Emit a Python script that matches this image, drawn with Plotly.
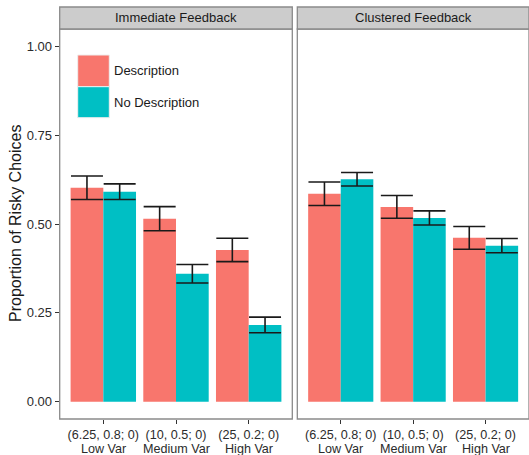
import plotly.graph_objects as go

# Risky-choice proportions by variance condition, feedback type and description
gambles = ["(6.25, 0.8; 0)", "(10, 0.5; 0)", "(25, 0.2; 0)"]
variance_labels = ["Low Var", "Medium Var", "High Var"]
panels = ["Immediate Feedback", "Clustered Feedback"]
groups = ["Description", "No Description"]
colors = ["#F8766D", "#00BFC4"]

immediate_desc = [0.602, 0.515, 0.427]
immediate_desc_se = [0.033, 0.034, 0.033]
immediate_nodesc = [0.591, 0.360, 0.216]
immediate_nodesc_se = [0.022, 0.026, 0.022]

clustered_desc = [0.585, 0.548, 0.461]
clustered_desc_se = [0.033, 0.032, 0.032]
clustered_nodesc = [0.626, 0.517, 0.439]
clustered_nodesc_se = [0.019, 0.020, 0.020]

y_ticks = [0.0, 0.25, 0.5, 0.75, 1.0]

W, H = 529, 455
FONT = "Liberation Sans, Arial, sans-serif"


def px_x(p):
    return p / W


def px_y(p):
    return 1 - p / H


fig = go.Figure()

series = [
    ("x", "y", immediate_desc, immediate_desc_se, immediate_nodesc, immediate_nodesc_se),
    ("x2", "y2", clustered_desc, clustered_desc_se, clustered_nodesc, clustered_nodesc_se),
]
for xa, ya, d, dse, nd, ndse in series:
    for name, vals, se, col in [(groups[0], d, dse, colors[0]), (groups[1], nd, ndse, colors[1])]:
        fig.add_trace(go.Bar(
            x=gambles, y=vals, name=name, marker=dict(color=col, line=dict(width=0)),
            error_y=dict(type="data", array=se, visible=True, color="#1a1a1a", thickness=1.6, width=16),
            xaxis=xa, yaxis=ya, showlegend=False,
        ))

left_dom = [px_x(59.7), px_x(292.3)]
right_dom = [px_x(297.3), 1.0]
y_dom = [px_y(419), px_y(29)]

axis_common = dict(
    showgrid=False, zeroline=False, showline=False, ticks="outside", ticklen=4,
    tickwidth=1, tickcolor="#333333", automargin=False,
)
x_font = dict(family=FONT, size=12.6, color="#2b2b2b")
y_font = dict(family=FONT, size=13, color="#2b2b2b")

fig.update_layout(
    width=W, height=H, margin=dict(l=0, r=0, t=0, b=0),
    paper_bgcolor="white", plot_bgcolor="white",
    barmode="group", bargap=0.1, bargroupgap=0,
    font=dict(family=FONT, size=13, color="#1a1a1a"),
    xaxis=dict(domain=left_dom, range=[-0.6, 2.6], type="category", anchor="y",
               tickangle=0, ticklabelstandoff=0, tickfont=x_font, **axis_common),
    xaxis2=dict(domain=right_dom, range=[-0.6, 2.6], type="category", anchor="y2",
                tickangle=0, ticklabelstandoff=0, tickfont=x_font, **axis_common),
    yaxis=dict(domain=y_dom, range=[-0.0487, 1.0487], anchor="x", tickvals=y_ticks,
               ticktext=[f"{v:.2f}" for v in y_ticks], tickfont=y_font, **axis_common),
    yaxis2=dict(domain=y_dom, range=[-0.0487, 1.0487], anchor="x2", tickvals=y_ticks,
                showticklabels=False, ticks="", showgrid=False, zeroline=False, showline=False),
    showlegend=False,
)

shapes = []
annotations = []
# panel borders and facet strips
for dom, label in [(left_dom, panels[0]), (right_dom, panels[1])]:
    shapes.append(dict(type="rect", xref="paper", yref="paper", x0=dom[0], x1=dom[1],
                       y0=y_dom[0], y1=y_dom[1], line=dict(color="#8a8a8a", width=1.3),
                       fillcolor="rgba(0,0,0,0)", layer="above"))
    shapes.append(dict(type="rect", xref="paper", yref="paper", x0=dom[0], x1=dom[1],
                       y0=y_dom[1], y1=px_y(7), line=dict(color="#8a8a8a", width=1.3),
                       fillcolor="#cccccc", layer="above"))
    annotations.append(dict(text=label, xref="paper", yref="paper", x=(dom[0] + dom[1]) / 2,
                            y=px_y(18), showarrow=False, xanchor="center", yanchor="middle",
                            font=dict(size=13, color="#1a1a1a")))

# second line of each category label (variance level), set tight under the gamble
for xa in ["x", "x2"]:
    for g, v in zip(gambles, variance_labels):
        annotations.append(dict(text=v, xref=xa, yref="paper", x=g, y=px_y(448.5),
                                showarrow=False, xanchor="center", yanchor="middle",
                                font=x_font))

# legend keys inside the left panel
key_x0, key_x1 = 77.7, 109.3
key_rows = [(55, 86.7), (86.7, 117.7)]
for (top, bot), name, col in zip(key_rows, groups, colors):
    shapes.append(dict(type="rect", xref="paper", yref="paper", x0=px_x(key_x0), x1=px_x(key_x1),
                       y0=px_y(bot), y1=px_y(top), fillcolor=col,
                       line=dict(color="#eeeeee", width=1)))
    annotations.append(dict(text=name, xref="paper", yref="paper", x=px_x(112), y=px_y((top + bot) / 2),
                            showarrow=False, xanchor="left", yanchor="middle",
                            font=dict(size=13, color="#1a1a1a")))

annotations.append(dict(text="Proportion of Risky Choices", xref="paper", yref="paper",
                        x=px_x(15), y=(y_dom[0] + y_dom[1]) / 2, textangle=-90, showarrow=False,
                        xanchor="center", yanchor="middle", font=dict(size=16, color="#1a1a1a")))

fig.update_layout(shapes=shapes, annotations=annotations)
fig.write_html("out.html")
